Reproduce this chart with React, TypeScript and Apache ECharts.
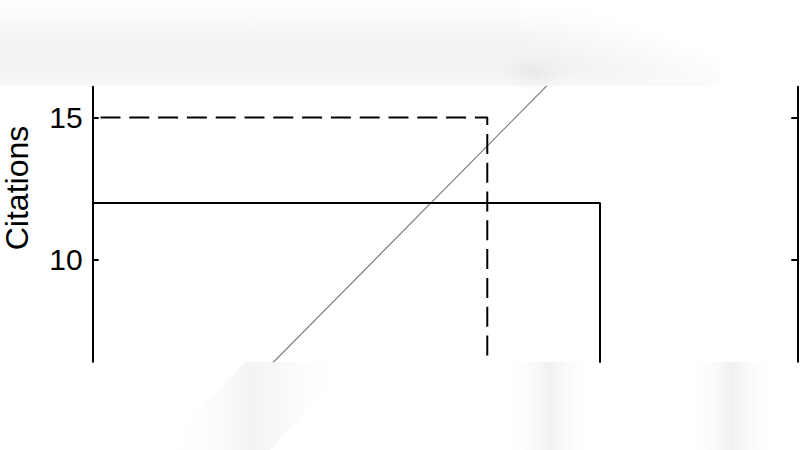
import { useEffect, useRef } from 'react';
import * as echarts from 'echarts';

// --- data ---
const yTicks = [10, 15];
const xRange = [0, 25];
const yRange = [6.43, 16.08];

// dashed step: 15 citations up to paper 14, then it drops out of view
const dashedX = [0, 14, 14];
const dashedY = [15, 15, 6];
// solid step: 12 citations up to paper 18
const solidX = [0, 18, 18];
const solidY = [12, 12, 6];
// reference line citations = papers
const diagonalX = [0, 25];
const diagonalY = [0, 25];

const zip = (xs: number[], ys: number[]) => xs.map((x, i) => [x, ys[i]]);

const FONT = '"Liberation Sans", Arial, sans-serif';

export default function App() {
  const ref = useRef<HTMLDivElement>(null);

  useEffect(() => {
    if (!ref.current) return;
    const chart = echarts.init(ref.current, null, { renderer: 'svg' });

    const fade = (c: string) => [
      { offset: 0, color: 'rgba(255,255,255,0)' },
      { offset: 0.5, color: c },
      { offset: 1, color: 'rgba(255,255,255,0)' },
    ];

    const yAxisBase = {
      type: 'value' as const,
      min: yRange[0],
      max: yRange[1],
      axisLine: { show: true, lineStyle: { color: '#000', width: 2 } },
      axisTick: {
        show: true,
        inside: true,
        length: 6,
        customValues: yTicks,
        lineStyle: { color: '#000', width: 2 },
      },
      splitLine: { show: false },
    };

    chart.setOption({
      animation: false,
      backgroundColor: '#fff',
      grid: { left: 92.7, right: 2.7, top: 86.7, bottom: 88.3 },
      xAxis: {
        type: 'value',
        min: xRange[0],
        max: xRange[1],
        axisLine: { show: false },
        axisTick: { show: false },
        axisLabel: { show: false },
        splitLine: { show: false },
      },
      yAxis: [
        {
          ...yAxisBase,
          position: 'left',
          axisLabel: {
            show: true,
            customValues: yTicks,
            margin: 10,
            color: '#000',
            fontSize: 30,
            fontFamily: FONT,
          },
        },
        {
          ...yAxisBase,
          position: 'right',
          axisLabel: { show: false },
        },
      ],
      graphic: [
        // faded band over the top
        {
          type: 'rect',
          shape: { x: 0, y: 0, width: 720, height: 86 },
          style: {
            fill: new echarts.graphic.LinearGradient(0, 0, 0, 1, [
              { offset: 0, color: 'rgba(243,243,243,0)' },
              { offset: 0.4, color: 'rgba(242,242,242,0.85)' },
              { offset: 0.75, color: '#f2f2f2' },
              { offset: 1, color: '#f8f8f8' },
            ]),
          },
          silent: true,
        },
        {
          type: 'ellipse',
          shape: { cx: 535, cy: 72, rx: 42, ry: 20 },
          style: {
            fill: new echarts.graphic.RadialGradient(0.5, 0.5, 0.5, [
              { offset: 0, color: 'rgba(228,228,228,0.8)' },
              { offset: 1, color: 'rgba(240,240,240,0)' },
            ]),
          },
          silent: true,
        },
        {
          type: 'rect',
          shape: { x: 520, y: 0, width: 210, height: 86 },
          style: {
            fill: new echarts.graphic.LinearGradient(0, 1, 1, 0, [
              { offset: 0.25, color: 'rgba(255,255,255,0)' },
              { offset: 0.65, color: 'rgba(255,255,255,1)' },
              { offset: 1, color: 'rgba(255,255,255,1)' },
            ]),
          },
          silent: true,
        },
        // faded patches under the plot
        {
          type: 'polygon',
          shape: { points: [[160, 450], [270, 450], [350, 362], [245, 362]] },
          style: { fill: new echarts.graphic.LinearGradient(0, 0, 1, 0, fade('#f3f3f3')) },
          silent: true,
        },
        {
          type: 'rect',
          shape: { x: 505, y: 362, width: 90, height: 88 },
          style: { fill: new echarts.graphic.LinearGradient(0, 0, 1, 0, fade('#f1f1f1')) },
          silent: true,
        },
        {
          type: 'rect',
          shape: { x: 685, y: 362, width: 95, height: 88 },
          style: { fill: new echarts.graphic.LinearGradient(0, 0, 1, 0, fade('#f1f1f1')) },
          silent: true,
        },
        {
          type: 'text',
          x: 17,
          y: 188,
          rotation: Math.PI / 2,
          style: {
            text: 'Citations',
            fill: '#000',
            font: `32px ${FONT}`,
            align: 'center',
            verticalAlign: 'middle',
          },
        },
      ],
      series: [
        {
          type: 'line',
          data: zip(diagonalX, diagonalY),
          symbol: 'none',
          clip: true,
          lineStyle: { color: '#7a7a7a', width: 1.2 },
          z: 1,
        },
        {
          type: 'line',
          data: zip(solidX, solidY),
          symbol: 'none',
          clip: true,
          lineStyle: { color: '#000', width: 2 },
          z: 2,
        },
        {
          type: 'line',
          data: zip(dashedX, dashedY),
          symbol: 'none',
          clip: true,
          lineStyle: { color: '#000', width: 2, type: [20, 8.8], dashOffset: 21.3 },
          z: 2,
        },
      ],
    });

    return () => chart.dispose();
  }, []);

  return (
    <div
      ref={ref}
      style={{ position: 'fixed', left: 0, top: 0, width: 800, height: 450 }}
    />
  );
}
